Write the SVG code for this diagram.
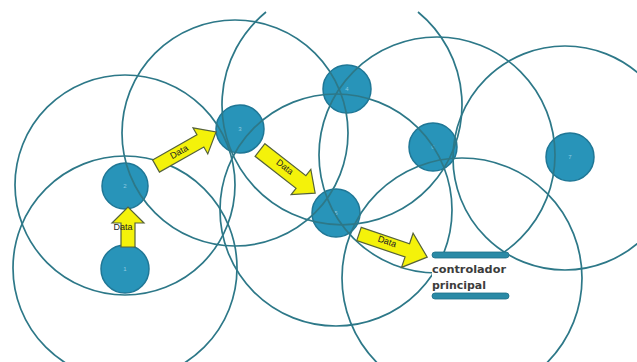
<svg xmlns="http://www.w3.org/2000/svg" width="637" height="362" viewBox="0 0 637 362">
<style>
.range{fill:none;stroke:#2d7888;stroke-width:1.7}
.node{fill:#2894b9;stroke:#1f7796;stroke-width:1.5}
.nlab{font-family:"Liberation Sans",Arial,sans-serif;font-size:6px;fill:#8fcbe0;text-anchor:middle}
.arr{fill:#f4f20a;stroke:#55623a;stroke-width:1.2;stroke-linejoin:miter}
.dlab{font-family:"Liberation Sans",Arial,sans-serif;font-size:9px;fill:#222;text-anchor:middle}
.ctext{font-family:"DejaVu Sans",Verdana,sans-serif;font-size:10px;font-weight:bold;fill:#3c3c3c}
.bar{fill:#2a8aa6;stroke:#1d6f88;stroke-width:0.8}
</style>
<rect width="637" height="362" fill="#ffffff"/>
<g id="n1"><circle class="node" cx="125" cy="269" r="24"/><text class="nlab" x="125" y="271">1</text></g>
<g id="n2"><circle class="node" cx="125" cy="186" r="23"/><text class="nlab" x="125" y="188">2</text></g>
<g id="n3"><circle class="node" cx="240" cy="129" r="24"/><text class="nlab" x="240" y="131">3</text></g>
<g id="n4"><circle class="node" cx="347" cy="89" r="24"/><text class="nlab" x="347" y="91">4</text></g>
<g id="n5"><circle class="node" cx="336" cy="213" r="24"/><text class="nlab" x="336" y="215">5</text></g>
<g id="n6"><circle class="node" cx="433" cy="147" r="24"/><text class="nlab" x="433" y="149">6</text></g>
<g id="n7"><circle class="node" cx="570" cy="157" r="24"/><text class="nlab" x="570" y="159">7</text></g>
<g id="ranges">
<circle class="range" cx="125" cy="268" r="112"/>
<circle class="range" cx="125" cy="185" r="110"/>
<circle class="range" cx="235" cy="133" r="113"/>
<path class="range" d="M266,12 A120,120 0 1 0 418,12"/>
<circle class="range" cx="336" cy="210" r="116"/>
<circle class="range" cx="437" cy="155" r="118"/>
<circle class="range" cx="565" cy="158" r="112"/>
<circle class="range" cx="462" cy="278" r="120"/>
</g>
<g id="controller">
<rect x="432" y="252" width="77" height="47" fill="#ffffff"/>
<rect class="bar" x="432" y="252" width="77" height="6" rx="3"/>
<rect class="bar" x="432" y="293" width="77" height="6" rx="3"/>
<text class="ctext" x="432" y="273" textLength="74" lengthAdjust="spacingAndGlyphs">controlador</text>
<text class="ctext" x="432" y="289" textLength="54" lengthAdjust="spacingAndGlyphs">principal</text>
</g>
<g id="connectors">
<g transform="translate(128,247) rotate(-90)">
<polygon class="arr" points="0,-7 24,-7 24,-16 40,0 24,16 24,7 0,7"/>
</g>
<text class="dlab" x="123" y="230">Data</text>
<g transform="translate(156,166) rotate(-29.5)">
<polygon class="arr" points="0,-7 51,-7 51,-15 69,0 51,15 51,7 0,7"/>
<text class="dlab" x="27" y="2">Data</text>
</g>
<g transform="translate(260,150) rotate(38)">
<polygon class="arr" points="0,-8 52,-8 52,-16 70,0 52,16 52,8 0,8"/>
<text class="dlab" x="30" y="1">Data</text>
</g>
<g transform="translate(359,234) rotate(18.7)">
<polygon class="arr" points="0,-7 51,-7 51,-18 72,0 51,18 51,7 0,7"/>
<text class="dlab" x="29" y="1">Data</text>
</g>
</g>
</svg>
